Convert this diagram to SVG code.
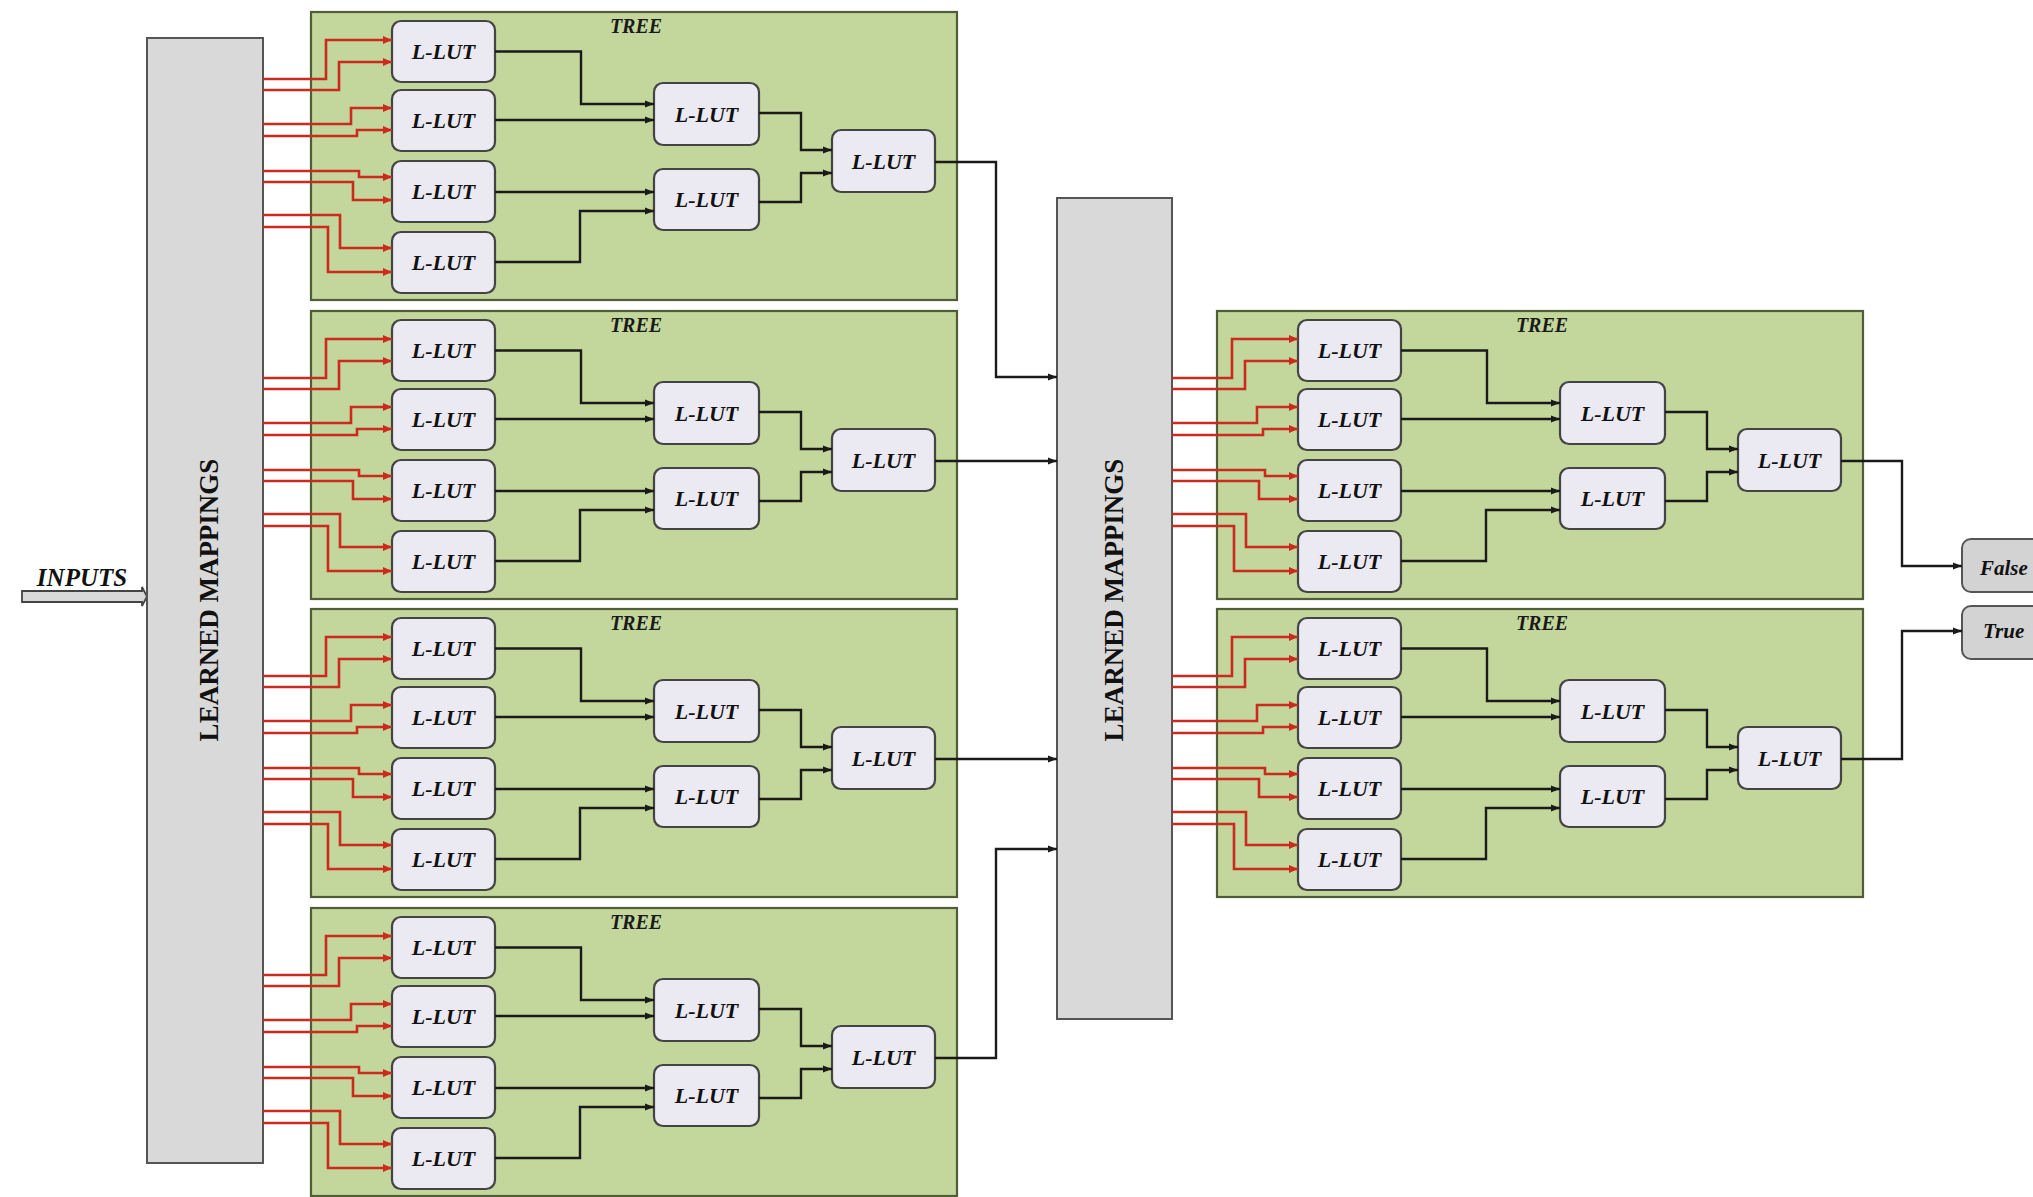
<svg xmlns="http://www.w3.org/2000/svg" width="2033" height="1197" viewBox="0 0 2033 1197">
<defs>
<marker id="ar" markerUnits="userSpaceOnUse" markerWidth="10" markerHeight="8" refX="9" refY="4" orient="auto"><path d="M0,0 L9,4 L0,8 z" fill="#cc2a1f"/></marker>
<marker id="ab" markerUnits="userSpaceOnUse" markerWidth="10" markerHeight="8" refX="9" refY="4" orient="auto"><path d="M0,0.5 L9,4 L0,7.5 z" fill="#1a1a1a"/></marker>
<style>
.tree{fill:#c3d69b;stroke:#4f5d38;stroke-width:2.2}
.lut rect{fill:#ebe9f1;stroke:#444;stroke-width:2.2}
.lut text,.out text{font-family:"Liberation Serif",serif;font-weight:bold;font-style:italic;font-size:22px;fill:#111;text-anchor:middle}
.out rect{fill:#d3d3d3;stroke:#555;stroke-width:2}
.out text{text-anchor:start;font-size:21px}
.lm rect{fill:#d9d9d9;stroke:#555;stroke-width:2}
.lm text{font-family:"Liberation Serif",serif;font-weight:bold;font-size:27px;fill:#111;text-anchor:middle}
.tt{font-family:"Liberation Serif",serif;font-weight:bold;font-style:italic;font-size:20px;fill:#1a1a1a;text-anchor:middle}
.red{fill:none;stroke:#cc2a1f;stroke-width:2.6;marker-end:url(#ar)}
.blk{fill:none;stroke:#1a1a1a;stroke-width:2.4;marker-end:url(#ab)}
</style>
</defs>
<rect width="2033" height="1197" fill="#ffffff"/>

<g id="inputs">
<polygon points="22,591 142,591 142,587 147,596.5 142,606 142,602 22,602" fill="#d9d9d9" stroke="#444" stroke-width="1.8"/>
<text x="82" y="586" font-family="Liberation Serif, serif" font-weight="bold" font-style="italic" font-size="25" fill="#111" text-anchor="middle">INPUTS</text>
</g>

<g id="lm-left" class="lm"><rect x="147" y="38" width="116" height="1125"/><text transform="translate(218,600) rotate(-90)">LEARNED MAPPINGS</text></g>
<g id="lm-mid" class="lm"><rect x="1057" y="198" width="115" height="821"/><text transform="translate(1123,600) rotate(-90)">LEARNED MAPPINGS</text></g>

<g id="tree-L1" transform="translate(311,12)">
<rect class="tree" width="646" height="288"/><text class="tt" x="325" y="21">TREE</text>
<g id="L1-a" class="lut"><rect x="81" y="9" width="103" height="61" rx="9"/><text x="132.5" y="47">L-LUT</text></g>
<g id="L1-b" class="lut"><rect x="81" y="78" width="103" height="61" rx="9"/><text x="132.5" y="116">L-LUT</text></g>
<g id="L1-c" class="lut"><rect x="81" y="149" width="103" height="61" rx="9"/><text x="132.5" y="187">L-LUT</text></g>
<g id="L1-d" class="lut"><rect x="81" y="220" width="103" height="61" rx="9"/><text x="132.5" y="258">L-LUT</text></g>
<g id="L1-e" class="lut"><rect x="343" y="71" width="105" height="62" rx="9"/><text x="395.5" y="110">L-LUT</text></g>
<g id="L1-f" class="lut"><rect x="343" y="157" width="105" height="61" rx="9"/><text x="395.5" y="195">L-LUT</text></g>
<g id="L1-g" class="lut"><rect x="521" y="118" width="103" height="62" rx="9"/><text x="572.5" y="157">L-LUT</text></g>
</g>

<g id="tree-L2" transform="translate(311,311)">
<rect class="tree" width="646" height="288"/><text class="tt" x="325" y="21">TREE</text>
<g id="L2-a" class="lut"><rect x="81" y="9" width="103" height="61" rx="9"/><text x="132.5" y="47">L-LUT</text></g>
<g id="L2-b" class="lut"><rect x="81" y="78" width="103" height="61" rx="9"/><text x="132.5" y="116">L-LUT</text></g>
<g id="L2-c" class="lut"><rect x="81" y="149" width="103" height="61" rx="9"/><text x="132.5" y="187">L-LUT</text></g>
<g id="L2-d" class="lut"><rect x="81" y="220" width="103" height="61" rx="9"/><text x="132.5" y="258">L-LUT</text></g>
<g id="L2-e" class="lut"><rect x="343" y="71" width="105" height="62" rx="9"/><text x="395.5" y="110">L-LUT</text></g>
<g id="L2-f" class="lut"><rect x="343" y="157" width="105" height="61" rx="9"/><text x="395.5" y="195">L-LUT</text></g>
<g id="L2-g" class="lut"><rect x="521" y="118" width="103" height="62" rx="9"/><text x="572.5" y="157">L-LUT</text></g>
</g>

<g id="tree-L3" transform="translate(311,609)">
<rect class="tree" width="646" height="288"/><text class="tt" x="325" y="21">TREE</text>
<g id="L3-a" class="lut"><rect x="81" y="9" width="103" height="61" rx="9"/><text x="132.5" y="47">L-LUT</text></g>
<g id="L3-b" class="lut"><rect x="81" y="78" width="103" height="61" rx="9"/><text x="132.5" y="116">L-LUT</text></g>
<g id="L3-c" class="lut"><rect x="81" y="149" width="103" height="61" rx="9"/><text x="132.5" y="187">L-LUT</text></g>
<g id="L3-d" class="lut"><rect x="81" y="220" width="103" height="61" rx="9"/><text x="132.5" y="258">L-LUT</text></g>
<g id="L3-e" class="lut"><rect x="343" y="71" width="105" height="62" rx="9"/><text x="395.5" y="110">L-LUT</text></g>
<g id="L3-f" class="lut"><rect x="343" y="157" width="105" height="61" rx="9"/><text x="395.5" y="195">L-LUT</text></g>
<g id="L3-g" class="lut"><rect x="521" y="118" width="103" height="62" rx="9"/><text x="572.5" y="157">L-LUT</text></g>
</g>

<g id="tree-L4" transform="translate(311,908)">
<rect class="tree" width="646" height="288"/><text class="tt" x="325" y="21">TREE</text>
<g id="L4-a" class="lut"><rect x="81" y="9" width="103" height="61" rx="9"/><text x="132.5" y="47">L-LUT</text></g>
<g id="L4-b" class="lut"><rect x="81" y="78" width="103" height="61" rx="9"/><text x="132.5" y="116">L-LUT</text></g>
<g id="L4-c" class="lut"><rect x="81" y="149" width="103" height="61" rx="9"/><text x="132.5" y="187">L-LUT</text></g>
<g id="L4-d" class="lut"><rect x="81" y="220" width="103" height="61" rx="9"/><text x="132.5" y="258">L-LUT</text></g>
<g id="L4-e" class="lut"><rect x="343" y="71" width="105" height="62" rx="9"/><text x="395.5" y="110">L-LUT</text></g>
<g id="L4-f" class="lut"><rect x="343" y="157" width="105" height="61" rx="9"/><text x="395.5" y="195">L-LUT</text></g>
<g id="L4-g" class="lut"><rect x="521" y="118" width="103" height="62" rx="9"/><text x="572.5" y="157">L-LUT</text></g>
</g>

<g id="tree-R1" transform="translate(1217,311)">
<rect class="tree" width="646" height="288"/><text class="tt" x="325" y="21">TREE</text>
<g id="R1-a" class="lut"><rect x="81" y="9" width="103" height="61" rx="9"/><text x="132.5" y="47">L-LUT</text></g>
<g id="R1-b" class="lut"><rect x="81" y="78" width="103" height="61" rx="9"/><text x="132.5" y="116">L-LUT</text></g>
<g id="R1-c" class="lut"><rect x="81" y="149" width="103" height="61" rx="9"/><text x="132.5" y="187">L-LUT</text></g>
<g id="R1-d" class="lut"><rect x="81" y="220" width="103" height="61" rx="9"/><text x="132.5" y="258">L-LUT</text></g>
<g id="R1-e" class="lut"><rect x="343" y="71" width="105" height="62" rx="9"/><text x="395.5" y="110">L-LUT</text></g>
<g id="R1-f" class="lut"><rect x="343" y="157" width="105" height="61" rx="9"/><text x="395.5" y="195">L-LUT</text></g>
<g id="R1-g" class="lut"><rect x="521" y="118" width="103" height="62" rx="9"/><text x="572.5" y="157">L-LUT</text></g>
</g>

<g id="tree-R2" transform="translate(1217,609)">
<rect class="tree" width="646" height="288"/><text class="tt" x="325" y="21">TREE</text>
<g id="R2-a" class="lut"><rect x="81" y="9" width="103" height="61" rx="9"/><text x="132.5" y="47">L-LUT</text></g>
<g id="R2-b" class="lut"><rect x="81" y="78" width="103" height="61" rx="9"/><text x="132.5" y="116">L-LUT</text></g>
<g id="R2-c" class="lut"><rect x="81" y="149" width="103" height="61" rx="9"/><text x="132.5" y="187">L-LUT</text></g>
<g id="R2-d" class="lut"><rect x="81" y="220" width="103" height="61" rx="9"/><text x="132.5" y="258">L-LUT</text></g>
<g id="R2-e" class="lut"><rect x="343" y="71" width="105" height="62" rx="9"/><text x="395.5" y="110">L-LUT</text></g>
<g id="R2-f" class="lut"><rect x="343" y="157" width="105" height="61" rx="9"/><text x="395.5" y="195">L-LUT</text></g>
<g id="R2-g" class="lut"><rect x="521" y="118" width="103" height="62" rx="9"/><text x="572.5" y="157">L-LUT</text></g>
</g>

<g id="out-false" class="out"><rect x="1962" y="539" width="100" height="53" rx="9"/><text x="1980" y="575">False</text></g>
<g id="out-true" class="out"><rect x="1962" y="606" width="100" height="53" rx="9"/><text x="1983" y="638">True</text></g>

<g id="connectors">
<g transform="translate(311,12)">
<path class="red" d="M-48,67 H15 V28 H81"/><path class="red" d="M-48,78 H28 V50 H81"/>
<path class="red" d="M-48,112 H40 V96 H81"/><path class="red" d="M-48,124 H46 V118 H81"/>
<path class="red" d="M-48,159 H48 V165 H81"/><path class="red" d="M-48,170 H42 V188 H81"/>
<path class="red" d="M-48,203 H29 V236 H81"/><path class="red" d="M-48,215 H17 V260 H81"/>
<path class="blk" d="M184,39.5 H270 V92 H343"/><path class="blk" d="M184,108 H343"/>
<path class="blk" d="M184,180 H343"/><path class="blk" d="M184,250 H269 V199 H343"/>
<path class="blk" d="M448,101 H490 V138 H521"/><path class="blk" d="M448,190 H490 V161 H521"/>
</g>
<g transform="translate(311,311)">
<path class="red" d="M-48,67 H15 V28 H81"/><path class="red" d="M-48,78 H28 V50 H81"/>
<path class="red" d="M-48,112 H40 V96 H81"/><path class="red" d="M-48,124 H46 V118 H81"/>
<path class="red" d="M-48,159 H48 V165 H81"/><path class="red" d="M-48,170 H42 V188 H81"/>
<path class="red" d="M-48,203 H29 V236 H81"/><path class="red" d="M-48,215 H17 V260 H81"/>
<path class="blk" d="M184,39.5 H270 V92 H343"/><path class="blk" d="M184,108 H343"/>
<path class="blk" d="M184,180 H343"/><path class="blk" d="M184,250 H269 V199 H343"/>
<path class="blk" d="M448,101 H490 V138 H521"/><path class="blk" d="M448,190 H490 V161 H521"/>
</g>
<g transform="translate(311,609)">
<path class="red" d="M-48,67 H15 V28 H81"/><path class="red" d="M-48,78 H28 V50 H81"/>
<path class="red" d="M-48,112 H40 V96 H81"/><path class="red" d="M-48,124 H46 V118 H81"/>
<path class="red" d="M-48,159 H48 V165 H81"/><path class="red" d="M-48,170 H42 V188 H81"/>
<path class="red" d="M-48,203 H29 V236 H81"/><path class="red" d="M-48,215 H17 V260 H81"/>
<path class="blk" d="M184,39.5 H270 V92 H343"/><path class="blk" d="M184,108 H343"/>
<path class="blk" d="M184,180 H343"/><path class="blk" d="M184,250 H269 V199 H343"/>
<path class="blk" d="M448,101 H490 V138 H521"/><path class="blk" d="M448,190 H490 V161 H521"/>
</g>
<g transform="translate(311,908)">
<path class="red" d="M-48,67 H15 V28 H81"/><path class="red" d="M-48,78 H28 V50 H81"/>
<path class="red" d="M-48,112 H40 V96 H81"/><path class="red" d="M-48,124 H46 V118 H81"/>
<path class="red" d="M-48,159 H48 V165 H81"/><path class="red" d="M-48,170 H42 V188 H81"/>
<path class="red" d="M-48,203 H29 V236 H81"/><path class="red" d="M-48,215 H17 V260 H81"/>
<path class="blk" d="M184,39.5 H270 V92 H343"/><path class="blk" d="M184,108 H343"/>
<path class="blk" d="M184,180 H343"/><path class="blk" d="M184,250 H269 V199 H343"/>
<path class="blk" d="M448,101 H490 V138 H521"/><path class="blk" d="M448,190 H490 V161 H521"/>
</g>
<g transform="translate(1217,311)">
<path class="red" d="M-45,67 H15 V28 H81"/><path class="red" d="M-45,78 H28 V50 H81"/>
<path class="red" d="M-45,112 H40 V96 H81"/><path class="red" d="M-45,124 H46 V118 H81"/>
<path class="red" d="M-45,159 H48 V165 H81"/><path class="red" d="M-45,170 H42 V188 H81"/>
<path class="red" d="M-45,203 H29 V236 H81"/><path class="red" d="M-45,215 H17 V260 H81"/>
<path class="blk" d="M184,39.5 H270 V92 H343"/><path class="blk" d="M184,108 H343"/>
<path class="blk" d="M184,180 H343"/><path class="blk" d="M184,250 H269 V199 H343"/>
<path class="blk" d="M448,101 H490 V138 H521"/><path class="blk" d="M448,190 H490 V161 H521"/>
</g>
<g transform="translate(1217,609)">
<path class="red" d="M-45,67 H15 V28 H81"/><path class="red" d="M-45,78 H28 V50 H81"/>
<path class="red" d="M-45,112 H40 V96 H81"/><path class="red" d="M-45,124 H46 V118 H81"/>
<path class="red" d="M-45,159 H48 V165 H81"/><path class="red" d="M-45,170 H42 V188 H81"/>
<path class="red" d="M-45,203 H29 V236 H81"/><path class="red" d="M-45,215 H17 V260 H81"/>
<path class="blk" d="M184,39.5 H270 V92 H343"/><path class="blk" d="M184,108 H343"/>
<path class="blk" d="M184,180 H343"/><path class="blk" d="M184,250 H269 V199 H343"/>
<path class="blk" d="M448,101 H490 V138 H521"/><path class="blk" d="M448,190 H490 V161 H521"/>
</g>
<path class="blk" d="M935,162 H996 V377 H1057"/>
<path class="blk" d="M935,461 H1057"/>
<path class="blk" d="M935,759 H1057"/>
<path class="blk" d="M935,1058 H996 V849 H1057"/>
<path class="blk" d="M1841,461 H1902 V566 H1962"/>
<path class="blk" d="M1841,759 H1902 V631 H1962"/>
</g>
</svg>
